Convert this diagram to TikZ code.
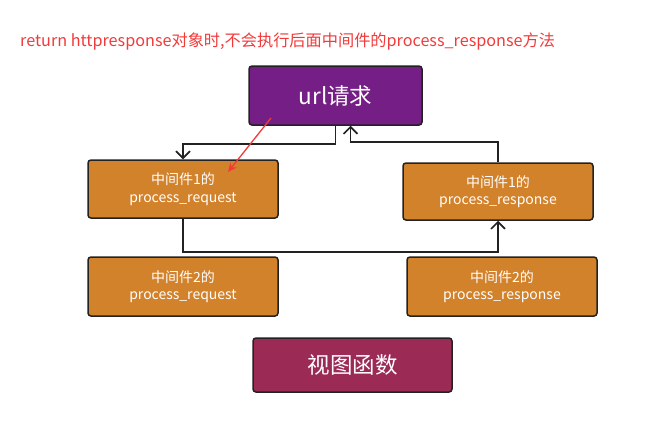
\documentclass[tikz,border=0pt]{standalone}
\usepackage{fontspec}
\setmainfont{Noto Sans CJK SC}
\usetikzlibrary{arrows.meta}
\definecolor{boxpurple}{HTML}{741E86}
\definecolor{boxorange}{HTML}{D3822C}
\definecolor{boxview}{HTML}{9B2B55}
\definecolor{edgedark}{HTML}{222222}
\definecolor{titlered}{HTML}{F23A3A}
\begin{document}
\begin{tikzpicture}[x=1pt,y=-1pt,
  box/.style={draw=edgedark,line width=1.5pt,rounded corners=3pt,text=white,align=center,inner sep=0pt},
  mid/.style={box,fill=boxorange,minimum width=190pt,font=\fontsize{14}{17.5}\selectfont},
  arr/.style={draw=edgedark,line width=1.6pt,-{Straight Barb[length=7pt,width=14pt,line width=1.6pt]}},
  redarr/.style={draw=titlered,line width=1.3pt,-{Stealth[length=9pt,width=8pt]}}]
\useasboundingbox (0,0) rectangle (645,429);
\node[anchor=west,text=titlered,font=\fontsize{16.2}{18}\selectfont,inner sep=0pt] (title) at (20,41)
  {return httpresponse对象时,不会执行后面中间件的process\_response方法};
\node[box,fill=boxpurple,minimum width=173pt,minimum height=59pt,font=\fontsize{22.5}{26}\selectfont] (url) at (335.5,95.5) {url请求};
\node[mid,minimum height=58pt] (m1q) at (183,189) {中间件1的\\process\_request};
\node[mid,minimum height=57pt] (m1r) at (498,191.5) {中间件1的\\process\_response};
\node[mid,minimum height=59pt] (m2q) at (183,286.5) {中间件2的\\process\_request};
\node[mid,minimum height=59pt] (m2r) at (502,286.5) {中间件2的\\process\_response};
\node[box,fill=boxview,minimum width=199pt,minimum height=54pt,font=\fontsize{22.5}{26}\selectfont] (view) at (352.5,365) {视图函数};
\draw[arr] (url.south) -- ++(0,18) -| (m1q.north);
\draw[arr] (m1r.north) -- ++(0,-20) -| ([xshift=15pt]url.south);
\draw[arr] (m1q.south) -- ++(0,33) -| (m1r.south);
\coordinate (rs) at (271,118);
\coordinate (re) at (228,172);
\draw[redarr] (rs) -- (re);
\end{tikzpicture}
\end{document}
